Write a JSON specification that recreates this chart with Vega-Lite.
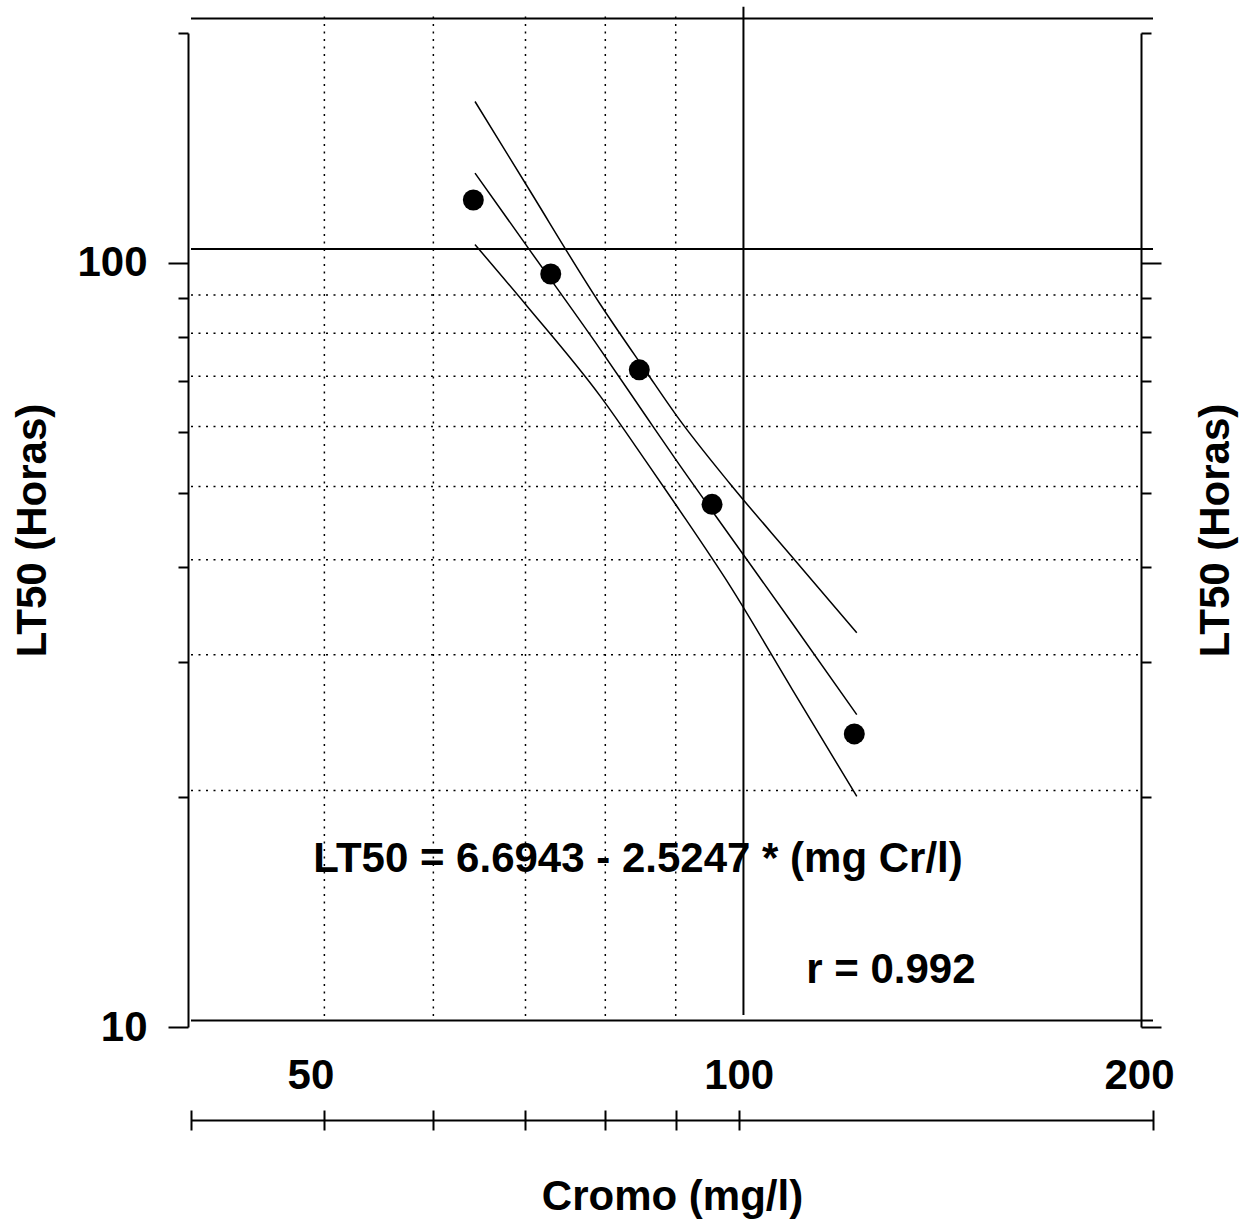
{
  "$schema": "https://vega.github.io/schema/vega-lite/v6.json",
  "autosize": {"type": "none"},
  "width": 962,
  "height": 994,
  "padding": {"left": 191, "top": 33, "right": 99, "bottom": 197},
  "background": "white",
  "config": {
    "view": {"stroke": null},
    "font": "Liberation Sans",
    "axis": {
      "labelFont": "Liberation Sans", "labelFontSize": 42, "labelFontWeight": "bold", "labelColor": "black",
      "titleFont": "Liberation Sans", "titleFontSize": 42, "titleFontWeight": "bold", "titleColor": "black",
      "domainColor": "black", "domainWidth": 2, "tickColor": "black", "tickWidth": 2, "grid": false,
      "labelFlush": false, "labelOverlap": false
    }
  },
  "datasets": {
    "points": [
      {"cromo": 64.15, "lt50": 120.9},
      {"cromo": 73.02, "lt50": 96.73},
      {"cromo": 84.68, "lt50": 72.47},
      {"cromo": 95.64, "lt50": 48.32},
      {"cromo": 121.34, "lt50": 24.19}
    ],
    "bands": [
      {"banda": "media", "cromo": 64.33, "lt50": 131.1},
      {"banda": "media", "cromo": 70.14, "lt50": 105.3},
      {"banda": "media", "cromo": 79.30, "lt50": 77.15},
      {"banda": "media", "cromo": 85.64, "lt50": 63.0},
      {"banda": "media", "cromo": 90.15, "lt50": 55.07},
      {"banda": "media", "cromo": 98.56, "lt50": 43.92},
      {"banda": "media", "cromo": 109.28, "lt50": 33.84},
      {"banda": "media", "cromo": 121.84, "lt50": 25.64},
      {"banda": "superior", "cromo": 64.33, "lt50": 162.7},
      {"banda": "superior", "cromo": 70.14, "lt50": 126.3},
      {"banda": "superior", "cromo": 79.30, "lt50": 88.37},
      {"banda": "superior", "cromo": 85.64, "lt50": 72.1},
      {"banda": "superior", "cromo": 90.15, "lt50": 63.08},
      {"banda": "superior", "cromo": 98.56, "lt50": 51.41},
      {"banda": "superior", "cromo": 109.28, "lt50": 41.30},
      {"banda": "superior", "cromo": 121.84, "lt50": 32.81},
      {"banda": "inferior", "cromo": 64.33, "lt50": 105.7},
      {"banda": "inferior", "cromo": 70.14, "lt50": 87.92},
      {"banda": "inferior", "cromo": 79.30, "lt50": 67.0},
      {"banda": "inferior", "cromo": 85.64, "lt50": 55.0},
      {"banda": "inferior", "cromo": 90.15, "lt50": 48.07},
      {"banda": "inferior", "cromo": 98.56, "lt50": 37.79},
      {"banda": "inferior", "cromo": 109.28, "lt50": 27.73},
      {"banda": "inferior", "cromo": 121.84, "lt50": 20.04}
    ],
    "hgrid": [
      {"lt50": 90.8, "desde": 40, "hasta": 196},
      {"lt50": 80.9, "desde": 40, "hasta": 196},
      {"lt50": 71.1, "desde": 40, "hasta": 196},
      {"lt50": 61.1, "desde": 40, "hasta": 196},
      {"lt50": 51.0, "desde": 40, "hasta": 196},
      {"lt50": 40.9, "desde": 40, "hasta": 196},
      {"lt50": 30.7, "desde": 40, "hasta": 196},
      {"lt50": 20.4, "desde": 40, "hasta": 196}
    ],
    "vgrid": [
      {"cromo": 50, "desde": 10.34, "hasta": 212},
      {"cromo": 60, "desde": 10.34, "hasta": 212},
      {"cromo": 70, "desde": 10.34, "hasta": 212},
      {"cromo": 80, "desde": 10.34, "hasta": 212},
      {"cromo": 90, "desde": 10.34, "hasta": 212}
    ],
    "hlines": [
      {"lt50": 209, "desde": 40, "hasta": 200},
      {"lt50": 10.2, "desde": 40, "hasta": 200},
      {"lt50": 104.3, "desde": 40, "hasta": 200}
    ],
    "vlines": [
      {"cromo": 100.8, "desde": 10.37, "hasta": 216.5}
    ],
    "texts": [
      {"cromo": 84.5, "lt50": 16.6, "label": "LT50 = 6.6943 - 2.5247 * (mg Cr/l)"},
      {"cromo": 129.0, "lt50": 11.88, "label": "r = 0.992"}
    ]
  },
  "resolve": {"axis": {"x": "independent", "y": "independent"}},
  "layer": [
    {
      "data": {"name": "hgrid"},
      "mark": {"type": "rule", "color": "black", "strokeWidth": 1.5, "strokeDash": [2, 5.5]},
      "encoding": {
        "y": {"field": "lt50", "type": "quantitative", "scale": {"type": "log", "domain": [10, 200], "nice": false},
              "axis": {"orient": "left", "offset": 3, "values": [20, 30, 40, 50, 60, 70, 80, 90, 200], "tickSize": 10, "labels": false, "domain": false, "title": null}},
        "x": {"field": "desde", "type": "quantitative", "scale": {"type": "log", "domain": [40, 200], "nice": false}, "axis": null},
        "x2": {"field": "hasta"}
      }
    },
    {
      "data": {"name": "vgrid"},
      "mark": {"type": "rule", "color": "black", "strokeWidth": 1.5, "strokeDash": [2, 5.5]},
      "encoding": {
        "x": {"field": "cromo", "type": "quantitative", "scale": {"type": "log", "domain": [40, 200], "nice": false},
              "axis": {"orient": "bottom", "offset": 93, "values": [40, 200], "ticks": false, "labels": false, "domain": true, "title": null}},
        "y": {"field": "desde", "type": "quantitative", "scale": {"type": "log", "domain": [10, 200], "nice": false}, "axis": null},
        "y2": {"field": "hasta"}
      }
    },
    {
      "data": {"name": "hlines"},
      "mark": {"type": "rule", "color": "black", "strokeWidth": 2},
      "encoding": {
        "y": {"field": "lt50", "type": "quantitative", "scale": {"type": "log", "domain": [10, 200], "nice": false},
              "axis": {"orient": "right", "offset": -12, "values": [20, 30, 40, 50, 60, 70, 80, 90, 200], "tickSize": 10, "labels": false, "domain": false, "title": null}},
        "x": {"field": "desde", "type": "quantitative", "scale": {"type": "log", "domain": [40, 200], "nice": false}, "axis": null},
        "x2": {"field": "hasta"}
      }
    },
    {
      "data": {"name": "vlines"},
      "mark": {"type": "rule", "color": "black", "strokeWidth": 2},
      "encoding": {
        "x": {"field": "cromo", "type": "quantitative", "scale": {"type": "log", "domain": [40, 200], "nice": false}, "axis": null},
        "y": {"field": "desde", "type": "quantitative", "scale": {"type": "log", "domain": [10, 200], "nice": false}, "axis": null},
        "y2": {"field": "hasta"}
      }
    },
    {
      "data": {"name": "bands"},
      "mark": {"type": "line", "color": "black", "strokeWidth": 1.5, "interpolate": "monotone"},
      "encoding": {
        "x": {"field": "cromo", "type": "quantitative", "scale": {"type": "log", "domain": [40, 200], "nice": false},
              "axis": {"orient": "bottom", "offset": 83, "values": [40, 50, 60, 70, 80, 90, 100, 200], "tickSize": 20, "domain": false,
                       "labelExpr": "datum.value == 50 || datum.value == 100 || datum.value == 200 ? datum.label : ''",
                       "format": "d", "labelBaseline": "alphabetic", "labelPadding": -42,
                       "labelOffset": {"condition": {"test": "datum.value == 100", "value": 0}, "value": -14},
                       "title": "Cromo (mg/l)", "titlePadding": 45}},
        "y": {"field": "lt50", "type": "quantitative", "scale": {"type": "log", "domain": [10, 200], "nice": false},
              "axis": {"orient": "right", "offset": -12, "values": [10, 100], "tickSize": 20, "labels": false, "domain": true,
                       "title": "LT50 (Horas)", "titleAngle": 270, "titleBaseline": "top", "titlePadding": 33}},
        "detail": {"field": "banda"}
      }
    },
    {
      "data": {"name": "points"},
      "mark": {"type": "circle", "color": "black", "size": 440, "opacity": 1},
      "encoding": {
        "x": {"field": "cromo", "type": "quantitative", "scale": {"type": "log", "domain": [40, 200], "nice": false}, "axis": null},
        "y": {"field": "lt50", "type": "quantitative", "scale": {"type": "log", "domain": [10, 200], "nice": false},
              "axis": {"orient": "left", "offset": 3, "values": [10, 100], "tickSize": 20, "labelPadding": 21, "format": "d", "domain": true,
                       "title": "LT50 (Horas)", "titlePadding": 22}}
      }
    },
    {
      "data": {"name": "texts"},
      "mark": {"type": "text", "color": "black", "font": "Liberation Sans", "fontSize": 42, "fontWeight": "bold", "align": "center", "baseline": "middle"},
      "encoding": {
        "x": {"field": "cromo", "type": "quantitative", "scale": {"type": "log", "domain": [40, 200], "nice": false}, "axis": null},
        "y": {"field": "lt50", "type": "quantitative", "scale": {"type": "log", "domain": [10, 200], "nice": false}, "axis": null},
        "text": {"field": "label"}
      }
    }
  ]
}
